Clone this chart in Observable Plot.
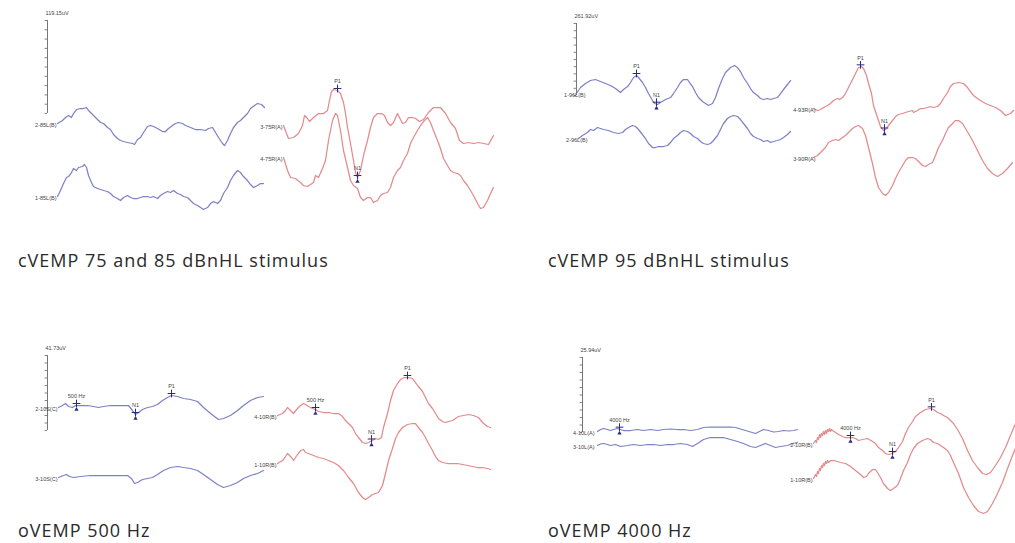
<!DOCTYPE html>
<html><head><meta charset="utf-8">
<script src="https://cdn.jsdelivr.net/npm/d3@7"></script>
<script src="https://cdn.jsdelivr.net/npm/@observablehq/plot@0.6"></script>
<style>
html,body{margin:0;padding:0;background:#fff;overflow:hidden}
#root{position:relative;width:1015px;height:543px;overflow:hidden;background:#fff}
.panel{position:absolute}
.panel svg{max-width:none !important}
.cap{position:absolute;font-family:"Open Sans",sans-serif;font-size:18px;letter-spacing:1px;line-height:20px;color:#2a2a2a;white-space:nowrap}
</style></head><body><div id="root"></div>
<script>
// ---------- Panel 1: cVEMP 75 and 85 dBnHL (time ms, amplitude display units) ----------
const p1Labels = ["2-85L(B)", "1-85L(B)", "3-75R(A)", "4-75R(A)"];
const p1Ears = ["L", "L", "R", "R"];
const p1Offsets = [107, 34, 105, 73];
const p1_2_85L = [[0,0],[1.25,3],[2,6],[2.75,8],[3.5,6],[4,10],[4.75,14],[5.75,15],[6.5,15],[7.25,16],[8,12],[9,8],[10,4],[10.75,1],[11.5,0],[12.5,-4],[13.25,-6],[14,-11],[15,-15],[15.75,-17],[16.5,-18],[17.5,-19],[18.75,-20],[19.25,-21],[20,-16],[20.75,-14],[21.5,-9],[22.5,-3],[23.25,-2],[24,-3],[25,-5],[26.25,-8],[27,-8],[27.75,-5],[28.75,-2],[29.5,0],[30.25,1],[31.25,0],[32,-2],[33.25,-4],[34.5,-6],[35.75,-6],[37,-7],[37.75,-5],[38.75,-4],[39.5,-9],[40.25,-14],[41.25,-20],[41.75,-22],[42.5,-17],[43.25,-10],[44,-4],[45,1],[45.75,3],[46.5,6],[47.5,10],[48.25,15],[49.25,18],[50,20],[51,19],[51.75,16]];
const p1_1_85L = [[0,0],[0.75,6],[1.5,13],[2.25,19],[2.75,20],[3.5,24],[4,28],[4.75,26],[5.25,29],[6.25,30],[6.75,32],[7.25,29],[7.75,21],[8.5,14],[9,10],[10,8],[10.75,7],[11.5,6],[12.5,5],[13.25,3],[14,0],[15,-2],[15.75,-4],[16.5,-1],[17.5,1],[18.25,-1],[19,-2],[20,-2],[20.75,-1],[21.5,0],[22.5,0],[23.25,-1],[24,0],[25,-2],[25.75,1],[26.5,3],[27.5,5],[28.25,4],[29,6],[30,3],[30.75,2],[31.5,0],[32.5,-1],[33.25,-4],[34,-7],[35,-9],[35.75,-11],[36.5,-13],[37.5,-11],[38.25,-7],[39,-5],[40,-7],[40.75,-4],[41.5,3],[42.5,9],[43.25,16],[44,21],[45,26],[45.75,24],[46.5,20],[47.5,16],[48.25,12],[49,9],[50,11],[50.75,13],[51.5,13]];
const p1_3_75R = [[0,0],[0.75,-8],[1.25,-13],[2.5,-12],[3.75,-8],[4.75,0],[5.25,10],[6,7],[6.5,4],[7.5,8],[8.75,12],[10,12],[11,15],[11.5,25],[12,34],[12.5,36],[13.5,35],[14.25,32],[15,23],[15.5,12],[16,-2],[16.75,-18],[17.5,-35],[18,-47],[18.5,-52],[19.25,-45],[20,-30],[21,-15],[21.75,-2],[22.5,8],[23.5,12],[24.5,12],[25.25,10],[26,3],[26.75,0],[27.5,3],[28.5,12],[29,8],[29.75,2],[30.5,3],[31.25,8],[32.25,8],[33,7],[34,4],[35,6],[36.25,13],[37.5,18],[39.25,18],[40.5,12],[41.75,3],[43,-3],[44,-15],[45,-18],[46.25,-17],[47.5,-18],[48.75,-17],[50,-18],[51.25,-19],[52.5,-10]];
const p1_4_75R = [[0,0],[1,-13],[1.75,-20],[3,-21],[4.25,-25],[5,-28],[6,-29],[6.75,-27],[7.5,-25],[8,-18],[8.75,-20],[9.75,-11],[10.5,-3],[11.25,17],[12.25,37],[13,44],[13.5,42],[14.25,27],[15,7],[16,-10],[16.75,-23],[17.5,-28],[18.5,-31],[19.25,-40],[20,-43],[21,-40],[21.75,-40],[22.5,-45],[23.5,-43],[24.25,-38],[25,-36],[26,-35],[26.75,-30],[27.5,-20],[28.5,-13],[29.25,-10],[30,-3],[31,4],[31.75,14],[32.5,20],[33.5,27],[34.25,32],[35,36],[36,40],[36.75,35],[37.5,27],[38.5,17],[39.25,9],[40,-1],[41,-8],[41.75,-13],[42.5,-15],[43.5,-16],[44.25,-18],[45,-23],[46,-28],[46.75,-33],[47.5,-38],[48.5,-46],[49.25,-51],[50,-50],[51,-43],[51.75,-36],[52.5,-30]];
const p1MarkerTrace = [2, 2];
const p1MarkerLabel = ["P1", "N1"];
const p1MarkerTime = [13.5, 18.5];

// ---------- Panel 2: cVEMP 95 dBnHL ----------
const p2Labels = ["1-96L(B)", "2-96L(B)", "4-93R(A)", "3-90R(A)"];
const p2Ears = ["L", "L", "R", "R"];
const p2Offsets = [137, 92, 122, 73];
const p2_1_96L = [[0,0],[1,6],[2.25,10],[3.5,13],[4.75,14],[6,12],[7.25,10],[8.5,8],[9.75,5],[11,1],[11.75,4],[12.75,7],[13.5,11],[14.25,16],[15,18],[15.5,16],[16.5,11],[17.25,6],[18,0],[19,-7],[19.5,-10],[20.25,-11],[21,-9],[22.25,-6],[23.5,-4],[24.25,0],[25.25,6],[26,11],[26.75,14],[27.75,14],[28.25,11],[29,7],[29.75,1],[30.5,-4],[31.5,-8],[32.25,-10],[33,-12],[34,-10],[34.75,-4],[35.5,5],[36.5,15],[37.25,21],[38.5,26],[39.5,28],[40.25,26],[41,22],[41.75,16],[42.75,10],[43.5,5],[44.25,1],[45.25,-2],[46,-5],[46.75,-6],[47.75,-5],[48.5,-6],[49.25,-5],[50.25,-4],[51,0],[51.75,4],[52.75,9],[53.5,13]];
const p2_2_96L = [[0.5,0],[1.5,3],[2.75,6],[3.5,9],[4.25,8],[5.25,11],[6,10],[6.75,9],[8,8],[9.25,6],[10.5,5],[11.5,6],[12.25,9],[13,11],[14,13],[14.75,12],[15.5,9],[16.5,4],[17.25,0],[18,-5],[19,-9],[19.75,-9],[20.5,-8],[21.75,-8],[22.75,-7],[23.5,-4],[24.25,0],[25.25,3],[26,6],[26.75,8],[27.75,7],[28.5,5],[29.25,2],[30.25,0],[31,-3],[31.75,-5],[32.75,-6],[33.5,-5],[34.25,-2],[35.25,3],[36,9],[36.75,15],[37.75,20],[38.5,22],[39.25,23],[40.25,22],[41,19],[41.75,15],[42.75,10],[43.5,5],[44.25,2],[45.25,0],[46,-1],[46.75,-3],[47.75,-2],[48.5,-4],[49.25,-3],[50.25,-2],[51,-1],[51.75,1],[52.75,4],[53.5,7]];
const p2_4_93R = [[0,0],[1,-2],[1.75,-1],[2.5,1],[3.5,3],[4.25,5],[5,8],[6,10],[6.5,9],[7.25,11],[8,15],[8.75,21],[9.75,29],[10.5,35],[11.25,41],[12,42],[12.5,40],[13.25,33],[13.75,25],[14.5,15],[15,3],[16,-9],[16.75,-18],[17.5,-22],[18,-21],[18.75,-17],[19.75,-12],[20.5,-8],[21.25,-6],[22.25,-5],[23,-4],[23.75,-3],[24.75,-2],[25,-4],[26,-2],[26.75,0],[27.5,0],[28.5,1],[29.25,2],[30,1],[31,2],[31.75,5],[32.5,10],[33.5,16],[34.25,22],[35,25],[36.25,26],[37.5,25],[38.5,21],[39.25,17],[40,13],[41,10],[41.75,8],[43,5],[44.25,3],[45.5,1],[46.75,-2],[48,-7],[49.25,-5],[50,-2]];
const p2_3_90R = [[0,0],[1,2],[1.5,4],[2.25,7],[3,10],[3.75,15],[4.75,17],[5.5,18],[6.25,17],[7.25,20],[8,22],[8.75,25],[9.75,29],[10.5,31],[11.25,32],[12.25,29],[13,22],[13.75,10],[14.75,-6],[15.5,-20],[16.25,-30],[17.25,-36],[18,-38],[18.75,-35],[19.75,-28],[20.5,-21],[21.25,-15],[22.25,-8],[23,-3],[23.75,0],[24.75,0],[25.5,-1],[26.25,-4],[27.25,-8],[28,-9],[28.75,-7],[29.75,-5],[30.5,2],[31.25,10],[32.25,17],[33,24],[33.75,30],[34.75,34],[35.5,37],[36.25,37],[37.25,34],[38,29],[38.75,24],[39.75,17],[41,7],[42.25,-3],[43.5,-11],[44.75,-16],[46,-19],[47.25,-16],[48.5,-11],[49.75,-5]];
const p2MarkerTrace = [0, 0, 2, 2];
const p2MarkerLabel = ["P1", "N1", "P1", "N1"];
const p2MarkerTime = [15, 20, 11.75, 17.75];

// ---------- Panel 3: oVEMP 500 Hz ----------
const p3Labels = ["2-10S(C)", "3-10S(C)", "4-10R(B)", "1-10R(B)"];
const p3Ears = ["L", "L", "R", "R"];
const p3Offsets = [113, 43, 105, 57];
const p3_2_10S = [[0,0],[1,2],[1.75,4],[2.5,1],[3.5,0],[4.25,2],[5.5,2],[7.25,2],[8.75,1],[10,0],[11.25,1],[13,2],[14.75,2],[16.25,2],[17.5,2],[18.5,-3],[19.25,-7],[20,-5],[21,-2],[22.25,0],[23.5,1],[24.75,3],[26,7],[27.25,10],[28.25,12],[29.75,11],[31.25,9],[33,8],[34.75,6],[36.25,0],[38,-6],[40,-12],[41.25,-11],[43,-8],[44.75,-3],[46.25,2],[48,7],[49.75,10],[51.25,11]];
const p3_3_10S = [[0,0],[1.25,2],[2,3],[2.75,1],[3.75,0],[5.5,1],[8,2],[10.5,2],[13,2],[15.5,2],[17.25,2],[18.25,-1],[19,-6],[19.75,-5],[21,-2],[22.25,-1],[23.5,0],[24.75,3],[26.25,7],[28,10],[29.75,11],[31.25,10],[33,9],[34.75,7],[36.25,3],[38,-2],[39.75,-7],[41.25,-10],[43,-8],[44.75,-5],[46.25,-1],[48,2],[49.75,4],[51.25,7]];
const p3_4_10R = [[0,0],[1.25,2],[2,5],[2.5,8],[3.25,5],[4,2],[5,7],[5.75,10],[6.5,12],[7,11],[7.75,9],[8.75,7],[9.5,6],[10.25,4],[11.5,3],[12.75,3],[14,2],[15.25,2],[16.25,-1],[17,-5],[17.75,-8],[18.75,-12],[19.5,-18],[20.25,-22],[21.25,-27],[22,-28],[22.75,-27],[23.75,-25],[24.5,-23],[25.25,-24],[26,-22],[26.5,-12],[27.5,2],[28.25,15],[29,25],[30,32],[30.75,36],[31.75,38],[32.75,38],[33.75,37],[34.5,33],[35.25,29],[36.25,24],[37,18],[37.75,12],[38.75,7],[39.5,2],[40.25,-3],[41.25,-6],[42,-7],[42.75,-6],[43.75,-5],[44.5,-3],[45.25,-1],[46.5,0],[47.75,1],[49,0],[50.25,-2],[51.25,-7],[52.5,-11],[53.25,-12]];
const p3_1_10R = [[0,0],[1.25,3],[2,7],[2.5,10],[3.5,6],[4,3],[5,9],[5.75,13],[6.5,14],[7,11],[7.75,10],[9,8],[10.25,6],[11.5,5],[12.75,3],[14,1],[15.25,-2],[16.5,-7],[17.75,-14],[19,-20],[20.25,-29],[21.25,-34],[22,-36],[22.75,-34],[23.75,-31],[24.5,-30],[25.25,-29],[26.25,-22],[27,-10],[27.75,3],[28.75,15],[29.5,25],[30.25,31],[31.25,36],[32.5,39],[33.75,40],[34.5,40],[35.25,36],[36.25,31],[37,26],[37.75,20],[38.75,13],[39.5,7],[40.25,3],[41.25,1],[42.5,0],[43.75,0],[45,0],[46.25,-1],[47.5,-2],[48.75,-3],[50,-4],[51.25,-4],[52.5,-5],[53.25,-6]];
const p3MarkerTrace = [0, 0, 0, 2, 2, 2];
const p3MarkerLabel = ["500 Hz", "N1", "P1", "500 Hz", "N1", "P1"];
const p3MarkerTime = [4.5, 19.25, 28.25, 9.5, 23.5, 32.5];

// ---------- Panel 4: oVEMP 4000 Hz ----------
const p4Labels = ["4-10L(A)", "3-10L(A)", "2-10R(B)", "1-10R(B)"];
const p4Ears = ["L", "L", "R", "R"];
const p4Offsets = [89, 75, 77, 42];
const p4_4_10L = [[0,0],[0.75,2],[1.5,3],[2.5,2],[3.25,1],[4,2],[5,3],[5.75,2],[6.5,1],[8.25,1],[10,2],[11.5,1],[13.25,2],[15,1],[16.5,2],[18.25,2.5],[20,2],[21.5,2],[23.25,1],[25,2],[25.75,3],[26.5,4],[28.25,4.5],[30,4.5],[31.5,4.5],[33.25,4.5],[34.5,4],[35.75,2.5],[37,1],[38.25,-0.5],[39.5,-2],[40.25,-0.5],[41.5,2],[42.75,1],[44,-0.5],[45.25,0],[46.5,1],[47.75,0.5],[49,1],[50,2]];
const p4_3_10L = [[0,0],[0.75,1.5],[1.5,2],[2.5,1],[3.25,0],[4.5,1],[5.75,-1],[7.5,0],[9,1],[10.75,0],[12.5,1],[14,1],[15.75,0],[17.5,1],[19,1],[20.75,2],[22.5,1],[23.75,-1],[25,2],[26.5,6],[28.25,8],[30,8],[31.5,8],[33.25,6],[35,4],[36.5,2],[38.25,-1],[39.5,-2],[40.75,0],[42,2],[43.25,0],[44.5,-2],[45.75,-1],[47.5,0],[48.75,2],[50,3]];
const p4_2_10R = [[0,0],[0.5,3],[0.75,1],[1,6],[1.25,4],[1.5,9],[1.75,6],[2,10],[2.25,8],[2.5,12],[2.75,9],[3,13],[3.25,10],[3.5,14],[3.75,12],[4,15],[4.25,12],[4.5,14],[4.75,13],[5.5,11],[6.25,9],[7.25,7],[8,6],[8.75,6],[9.75,6],[10.5,5],[11.25,3],[12.25,4],[13.5,5],[14.75,2],[15.5,0],[16.25,-4],[17.25,-7],[18,-10],[18.75,-11],[19.75,-10],[20.5,-8],[21.25,-4],[22.25,2],[23,10],[23.75,16],[24.75,22],[25.5,27],[26.75,31],[28,34],[29.25,35],[30,34],[31,31],[31.75,30],[32.5,28],[33.5,26],[34.25,23],[35,20],[36,14],[37.25,5],[38.5,-7],[39.75,-17],[41,-24],[42.25,-30],[43.25,-31],[44.25,-29],[45.5,-22],[46.75,-14],[48,-4],[49.25,8],[50.5,20],[51.25,26]];
const p4_1_10R = [[0,0],[0.5,4],[0.75,2],[1,7],[1.25,5],[1.5,10],[1.75,8],[2,13],[2.25,11],[2.5,15],[2.75,13],[3,17],[3.25,15],[3.5,18],[3.75,16],[4.25,18],[5,18],[6,17],[6.75,16],[8,15],[9.25,12],[10.5,8],[11.75,4],[12.5,1],[13.25,2],[13.75,5],[14.75,9],[15.5,9],[16,6],[16.75,1],[17.5,-5],[18.5,-10],[19.25,-12],[20,-10],[21,-7],[21.75,0],[22.5,8],[23.5,16],[24.25,24],[25,30],[26,35],[27.25,38],[28.5,40],[29.25,39],[30,36],[31,35],[31.75,33],[32.5,31],[33.5,28],[34.25,23],[35,16],[36.25,5],[37.5,-9],[38.75,-19],[40,-27],[41.25,-33],[42.5,-35],[43.5,-33],[44.75,-25],[46,-15],[47.25,-4],[48.5,10],[49.75,23],[51,35]];
const p4MarkerTrace = [0, 2, 2, 2];
const p4MarkerLabel = ["4000 Hz", "4000 Hz", "N1", "P1"];
const p4MarkerTime = [5.5, 9.25, 19.75, 29.5];

// ---------- Amplitude scale bars and captions ----------
const scaleLabels = ["119.15uV", "261.92uV", "41.73uV", "25.94uV"];
const scaleBase = [117, 135, 90, 88];
const scaleSpan = [93, 72, 75, 75];
const scaleTime = [-2.5, 0, -2.75, -3.75];
const captions = ["cVEMP 75 and 85 dBnHL stimulus", "cVEMP 95 dBnHL stimulus", "oVEMP 500 Hz", "oVEMP 4000 Hz"];

const BLUE = "#7d81c6", RED = "#e38a8c", NAVY = "#2a2a80", INK = "#444";
const FONT = "Liberation Sans, Arial, sans-serif";

function interp(data, t) {
  for (let k = 1; k < data.length; k++) {
    if (data[k][0] >= t) {
      const [t0, a0] = data[k - 1], [t1, a1] = data[k];
      return a0 + (a1 - a0) * (t - t0) / (t1 - t0);
    }
  }
  return data[data.length - 1][1];
}

function drawPanel(cfg) {
  const {traces, ears, offsets, labels} = cfg;
  const rows = traces.flatMap((tr, i) => tr.map(([t, a]) => ({i, ear: ears[i], t, v: offsets[i] + a})));
  const starts = traces.map((tr, i) => ({ear: ears[i], t: tr[0][0], v: offsets[i] + tr[0][1], label: labels[i]}));
  const markers = cfg.mTrace.map((ti, k) => ({
    ear: ears[ti], t: cfg.mTime[k], v: offsets[ti] + interp(traces[ti], cfg.mTime[k]), label: cfg.mLabel[k], peak: cfg.mLabel[k] === "P1"
  }));
  const bar = [{ear: "L", t: cfg.barTime, y1: cfg.barBase, y2: cfg.barBase + cfg.barSpan, label: cfg.barLabel}];
  const ticks = d3.range(11).map(k => ({ear: "L", x1: cfg.barTime - 0.6, x2: cfg.barTime, v: cfg.barBase + cfg.barSpan * k / 10}));
  return Plot.plot({
    width: cfg.width, height: cfg.height,
    marginLeft: cfg.ml, marginRight: cfg.mr, marginTop: 0, marginBottom: 0,
    axis: null,
    style: {background: "transparent", overflow: "visible", maxWidth: "none"},
    x: {domain: [0, cfg.T], axis: null},
    y: {domain: [0, cfg.height], axis: null},
    fx: {domain: ["L", "R"], paddingInner: cfg.pad, paddingOuter: 0, round: false, axis: null},
    marks: [
      Plot.ruleX(bar, {fx: "ear", x: "t", y1: "y1", y2: "y2", stroke: "#666", strokeWidth: 0.9}),
      Plot.ruleY(ticks, {fx: "ear", y: "v", x1: "x1", x2: "x2", stroke: "#666", strokeWidth: 0.8}),
      Plot.text(bar, {fx: "ear", x: "t", y: "y2", text: "label", textAnchor: "start", dx: -2, dy: -7, fontSize: 5.5, fontFamily: FONT, fill: INK}),
      Plot.line(rows.filter(d => d.ear === "L"), {fx: "ear", x: "t", y: "v", z: "i", stroke: BLUE, strokeWidth: 1.25}),
      Plot.line(rows.filter(d => d.ear === "R"), {fx: "ear", x: "t", y: "v", z: "i", stroke: RED, strokeWidth: 1.25}),
      Plot.text(starts.filter(d => d.ear === "L"), {fx: "ear", x: "t", y: "v", text: "label", textAnchor: "end", dx: cfg.labelDx[0], dy: 2, fontSize: 5.5, fontFamily: FONT, fill: INK}),
      Plot.text(starts.filter(d => d.ear === "R"), {fx: "ear", x: "t", y: "v", text: "label", textAnchor: "end", dx: cfg.labelDx[1], dy: 2, fontSize: 5.5, fontFamily: FONT, fill: INK}),
      Plot.dot(markers, {fx: "ear", x: "t", y: "v", symbol: "plus", r: 2.6, stroke: NAVY, strokeWidth: 1, dy: -2}),
      Plot.dot(markers.filter(d => !d.peak), {fx: "ear", x: "t", y: "v", symbol: "triangle", r: 1.6, fill: NAVY, stroke: "none", dy: 4}),
      Plot.text(markers, {fx: "ear", x: "t", y: "v", text: "label", dy: -9, fontSize: 5.5, fontFamily: FONT, fill: INK})
    ]
  });
}

const panels = [
  {left: 0, top: 0, width: 507, height: 230, ml: 57, mr: 14, pad: 16 / 226, T: 52.5,
   traces: [p1_2_85L, p1_1_85L, p1_3_75R, p1_4_75R], ears: p1Ears, offsets: p1Offsets, labels: p1Labels, labelDx: [-1, -1],
   mTrace: p1MarkerTrace, mLabel: p1MarkerLabel, mTime: p1MarkerTime},
  {left: 507, top: 0, width: 522, height: 230, ml: 69, mr: 0, pad: 21 / 237, T: 54,
   traces: [p2_1_96L, p2_2_96L, p2_4_93R, p2_3_90R], ears: p2Ears, offsets: p2Offsets, labels: p2Labels, labelDx: [9, 2],
   mTrace: p2MarkerTrace, mLabel: p2MarkerLabel, mTime: p2MarkerTime},
  {left: 0, top: 330, width: 507, height: 190, ml: 58, mr: 17, pad: 6 / 219, T: 53.25,
   traces: [p3_2_10S, p3_3_10S, p3_4_10R, p3_1_10R], ears: p3Ears, offsets: p3Offsets, labels: p3Labels, labelDx: [-1, -1],
   mTrace: p3MarkerTrace, mLabel: p3MarkerLabel, mTime: p3MarkerTime},
  {left: 507, top: 330, width: 512, height: 190, ml: 90, mr: 0, pad: 10 / 216, T: 51.5,
   traces: [p4_4_10L, p4_3_10L, p4_2_10R, p4_1_10R], ears: p4Ears, offsets: p4Offsets, labels: p4Labels, labelDx: [-3, -1],
   mTrace: p4MarkerTrace, mLabel: p4MarkerLabel, mTime: p4MarkerTime}
];
const capPos = [[18, 250], [548, 250], [18, 520], [548, 520]];

const root = document.getElementById("root");
panels.forEach((cfg, k) => {
  cfg.barLabel = scaleLabels[k];
  cfg.barBase = scaleBase[k];
  cfg.barSpan = scaleSpan[k];
  cfg.barTime = scaleTime[k];
  const div = document.createElement("div");
  div.className = "panel";
  div.style.left = cfg.left + "px";
  div.style.top = cfg.top + "px";
  div.style.width = cfg.width + "px";
  div.style.height = cfg.height + "px";
  div.appendChild(drawPanel(cfg));
  root.appendChild(div);
});
captions.forEach((c, k) => {
  const d = document.createElement("div");
  d.className = "cap";
  d.style.left = capPos[k][0] + "px";
  d.style.top = capPos[k][1] + "px";
  d.textContent = c;
  root.appendChild(d);
});
</script></body></html>
